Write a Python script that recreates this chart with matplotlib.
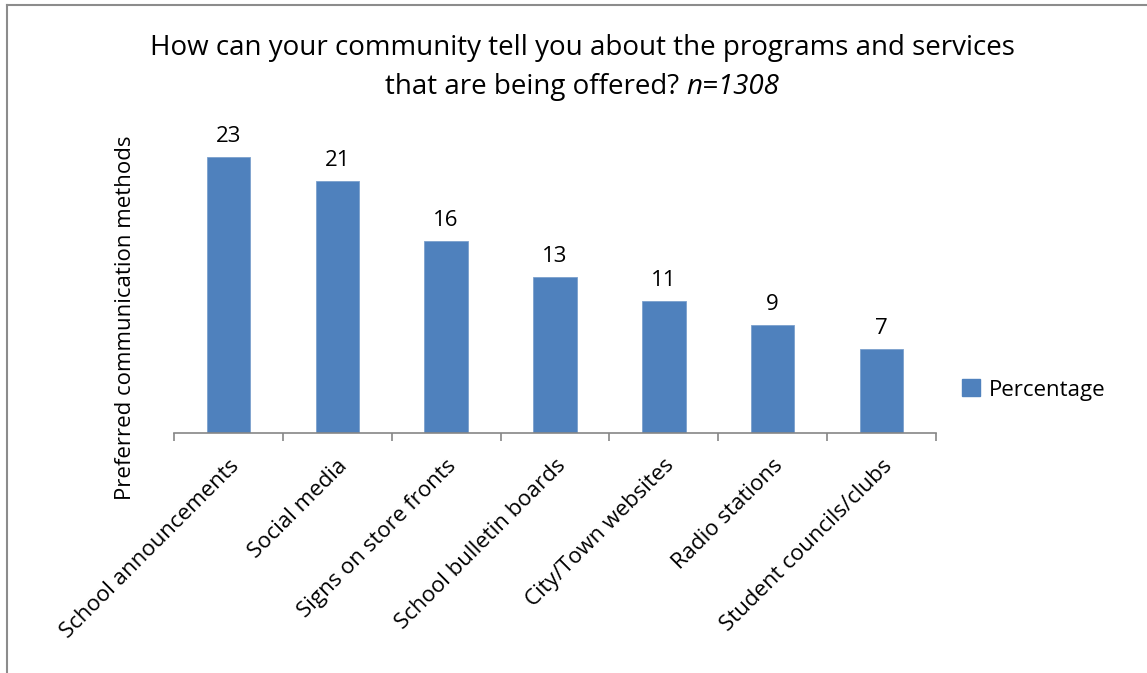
import matplotlib.pyplot as plt
from matplotlib.patches import Patch
from matplotlib.lines import Line2D
import numpy as np

plt.rcParams['font.family'] = ['Open Sans', 'DejaVu Sans']

methods = ["School announcements", "Social media", "Signs on store fronts",
           "School bulletin boards", "City/Town websites", "Radio stations",
           "Student councils/clubs"]
percentage = [23, 21, 16, 13, 11, 9, 7]

BAR_COLOR = "#4F81BD"
AXIS_GRAY = "#868686"
FS = 16

W, H = 1147, 673
fig = plt.figure(figsize=(W / 100, H / 100), dpi=100)

# plot area in pixel terms
left, right, base, top = 174, 936, 433, 133
ax = fig.add_axes([left / W, 1 - base / H, (right - left) / W, (base - top) / H])

x = np.arange(len(methods))
bars = ax.bar(x, percentage, width=0.4, color=BAR_COLOR,
              edgecolor="#7BA0CD", linewidth=0.6)
ax.set_xlim(-0.5, len(methods) - 0.5)
ax.set_ylim(0, 25)

for b, v in zip(bars, percentage):
    ax.annotate(str(v), (b.get_x() + b.get_width() / 2, v),
                xytext=(0, 7), textcoords="offset points",
                ha="center", va="bottom", fontsize=FS)

for s in ["top", "right", "left"]:
    ax.spines[s].set_visible(False)
ax.spines["bottom"].set_color(AXIS_GRAY)
ax.spines["bottom"].set_linewidth(1.2)
ax.set_yticks([])

# ticks between categories, labels at category centres
ax.set_xticks(np.arange(len(methods) + 1) - 0.5)
ax.set_xticklabels([])
ax.tick_params(axis="x", direction="out", length=6, width=1.2, color=AXIS_GRAY)
ax.set_xticks(x, minor=True)
ax.set_xticklabels(methods, minor=True, rotation=45, ha="right", va="top",
                   rotation_mode="anchor", fontsize=FS)
ax.tick_params(axis="x", which="minor", length=0, pad=16)

ax.set_ylabel("Preferred communication methods", fontsize=FS)
ax.yaxis.set_label_coords(-0.05, 0.385)

# two-line title, second line has an italic sample size
fig.text(582 / W, 1 - 48 / H,
         "How can your community tell you about the programs and services",
         ha="center", va="center", fontsize=20)
renderer = fig.canvas.get_renderer()
t1 = fig.text(0, 1 - 87 / H, "that are being offered? ", ha="left",
              va="center", fontsize=20)
t2 = fig.text(0, 1 - 87 / H, "n=1308", ha="left", va="center",
              fontsize=20, style="italic")
w1 = t1.get_window_extent(renderer).width
w2 = t2.get_window_extent(renderer).width
x0 = 582 - (w1 + w2) / 2
t1.set_x(x0 / W)
t2.set_x((x0 + w1) / W)

fig.legend(handles=[Patch(color=BAR_COLOR, label="Percentage")],
           loc="center left", bbox_to_anchor=(942 / W, 1 - 390 / H),
           frameon=False, fontsize=FS, handlelength=0.8, handleheight=0.8,
           handletextpad=0.4)

# chart frame on the left and top edges
fig.add_artist(Line2D([7 / W, 7 / W], [0, 1 - 5 / H], color="#8C8C8C", lw=1.5,
                      transform=fig.transFigure))
fig.add_artist(Line2D([7 / W, 1], [1 - 5 / H, 1 - 5 / H], color="#8C8C8C", lw=1.5,
                      transform=fig.transFigure))

fig.savefig("out.png", dpi=100)
